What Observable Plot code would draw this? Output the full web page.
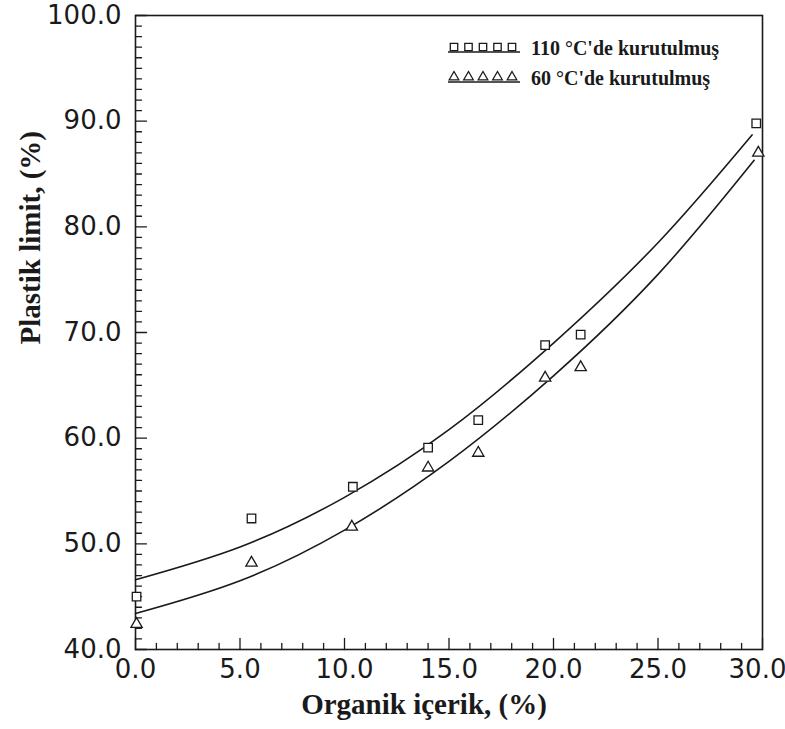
<!DOCTYPE html>
<html>
<head>
<meta charset="utf-8">
<script src="https://cdn.jsdelivr.net/npm/d3@7"></script>
<script src="https://cdn.jsdelivr.net/npm/@observablehq/plot@0.6"></script>
<style>
  html, body { margin: 0; padding: 0; background: #fff; }
  #wrap { position: relative; width: 785px; height: 729px; overflow: hidden; }
  #legend { position: absolute; left: 0; top: 0; pointer-events: none; }
</style>
</head>
<body>
<div id="wrap"></div>
<script>
// ---- data ----
const organic110 = [0.05, 5.55, 10.4, 14.0, 16.4, 19.6, 21.3, 29.7];
const plastic110 = [45.0, 52.4, 55.4, 59.1, 61.7, 68.8, 69.8, 89.8];
const organic60  = [0.05, 5.55, 10.35, 14.0, 16.4, 19.6, 21.3, 29.8];
const plastic60  = [42.4, 48.2, 51.6, 57.2, 58.6, 65.7, 66.7, 87.0];

// fitted curves
const curveX110 = [0, 5, 10, 15, 20, 25, 29.5];
const curveY110 = [46.6, 49.7, 54.4, 60.8, 69.0, 78.5, 88.7];
const curveX60  = [0, 5, 10, 15, 20, 25, 29.6];
const curveY60  = [43.4, 46.5, 51.3, 57.8, 65.9, 75.5, 86.3];

const xMajor = [0, 5, 10, 15, 20, 25];
const xLast = [30];
const yMajor = [40, 50, 60, 70, 80, 90, 100];
const xMinor = d3.range(1, 30).filter(d => d % 5 !== 0);
const yMinor = d3.range(41, 100).filter(d => d % 10 !== 0);

const legendLabels = ["110 °C'de kurutulmuş", "60 °C'de kurutulmuş"];
const xTitle = "Organik içerik, (%)";
const yTitle = "Plastik limit, (%)";

// ---- build tables ----
const pts110 = organic110.map((x, i) => ({x, y: plastic110[i]}));
const pts60  = organic60.map((x, i) => ({x, y: plastic60[i]}));
const line110 = curveX110.map((x, i) => ({x, y: curveY110[i]}));
const line60  = curveX60.map((x, i) => ({x, y: curveY60[i]}));

const tickShape = { draw(ctx, l) { ctx.moveTo(0, 0); ctx.lineTo(0, -l); } };

const INK = "#1a1a1a";
const serif = "'Liberation Serif', 'Times New Roman', serif";
const sans = "'DejaVu Sans', sans-serif";
const fmt = d => d.toFixed(1);
const TICKFONT = 26;

const chart = Plot.plot({
  width: 785,
  height: 729,
  marginLeft: 135,
  marginRight: 23,
  marginTop: 15,
  marginBottom: 80,
  x: { domain: [0, 30] },
  y: { domain: [40, 100] },
  style: { fontFamily: sans, fontSize: TICKFONT + "px", color: INK, background: "#fff" },
  marks: [
    Plot.frame({ stroke: INK, strokeWidth: 1.6 }),
    // tick labels
    Plot.axisX(xMajor, { tickSize: 0, tickPadding: 10, tickFormat: fmt, label: null, fontSize: TICKFONT }),
    Plot.text(xLast, { x: d => d, text: fmt, frameAnchor: "bottom", lineAnchor: "top", dy: 10, dx: -5, fontFamily: sans, fontSize: TICKFONT, fill: INK }),
    Plot.axisY(yMajor, { tickSize: 0, tickPadding: 14, tickFormat: fmt, label: null, fontSize: TICKFONT }),
    // inward ticks
    Plot.vector(xMinor, { x: d => d, y: 40, length: 6, rotate: 0, anchor: "start", shape: tickShape, stroke: INK, strokeWidth: 1.3 }),
    Plot.vector(xMajor.concat(xLast), { x: d => d, y: 40, length: 11, rotate: 0, anchor: "start", shape: tickShape, stroke: INK, strokeWidth: 1.3 }),
    Plot.vector(yMinor, { x: 0, y: d => d, length: 6, rotate: 90, anchor: "start", shape: tickShape, stroke: INK, strokeWidth: 1.3 }),
    Plot.vector(yMajor, { x: 0, y: d => d, length: 11, rotate: 90, anchor: "start", shape: tickShape, stroke: INK, strokeWidth: 1.3 }),
    // fitted curves
    Plot.line(line110, { x: "x", y: "y", curve: "natural", stroke: INK, strokeWidth: 1.6 }),
    Plot.line(line60, { x: "x", y: "y", curve: "natural", stroke: INK, strokeWidth: 1.6 }),
    // points
    Plot.dot(pts110, { x: "x", y: "y", symbol: "square", r: 4.8, stroke: INK, strokeWidth: 1.3, fill: "#fff" }),
    Plot.dot(pts60, { x: "x", y: "y", symbol: "triangle", r: 4.2, stroke: INK, strokeWidth: 1.3, fill: "#fff" }),
    // axis titles
    Plot.text([xTitle], { text: d => d, frameAnchor: "bottom", dx: -25, dy: 64, fontFamily: serif, fontWeight: "bold", fontSize: 29, fill: INK }),
    Plot.text([yTitle], { text: d => d, frameAnchor: "left", rotate: -90, dx: -105, dy: 12, fontFamily: serif, fontWeight: "bold", fontSize: 29, fill: INK })
  ]
});

const wrap = document.getElementById("wrap");
wrap.appendChild(chart);

// ---- legend (drawn over the plot area) ----
const leg = d3.select(wrap).append("svg")
  .attr("id", "legend").attr("width", 785).attr("height", 729);
const legX = d3.range(5).map(i => 454 + i * 14.5);
const rows = [
  { y: 47, label: legendLabels[0], sym: d3.symbolSquare, size: 55 },
  { y: 77, label: legendLabels[1], sym: d3.symbolTriangle, size: 40 }
];
rows.forEach(r => {
  const g = leg.append("g");
  g.append("line").attr("x1", 448).attr("x2", 520).attr("y1", r.y + 5).attr("y2", r.y + 5)
    .attr("stroke", INK).attr("stroke-width", 1.3);
  g.selectAll("path").data(legX).join("path")
    .attr("transform", x => `translate(${x},${r.y})`)
    .attr("d", d3.symbol(r.sym, r.size))
    .attr("fill", "#fff").attr("stroke", INK).attr("stroke-width", 1.3);
  g.append("text").attr("x", 531).attr("y", r.y + 1).attr("dy", "0.35em")
    .attr("font-family", serif).attr("font-weight", "bold").attr("font-size", 20)
    .attr("fill", INK).text(r.label);
});
</script>
</body>
</html>
